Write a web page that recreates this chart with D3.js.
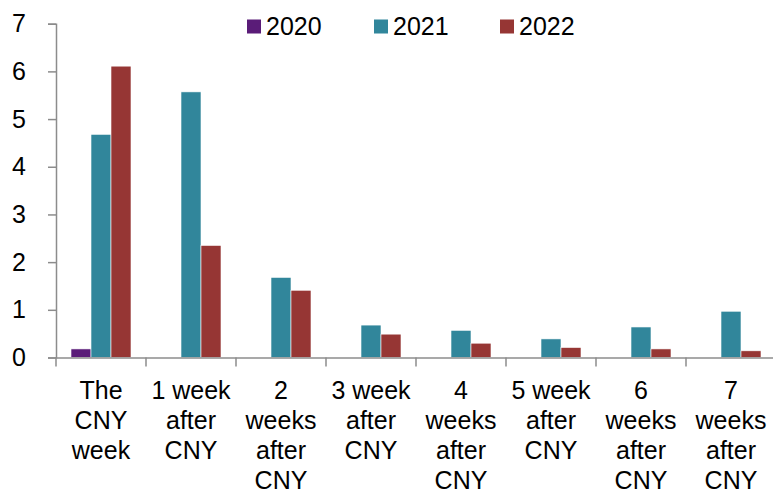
<!DOCTYPE html>
<html>
<head>
<meta charset="utf-8">
<script src="https://cdn.jsdelivr.net/npm/d3@7"></script>
<style>
  html, body { margin: 0; padding: 0; background: #fff; }
  svg { display: block; font-family: "Liberation Sans", Arial, sans-serif; }
</style>
</head>
<body>
<svg id="chart" width="773" height="493"></svg>
<script>
// Categories (weeks relative to Chinese New Year), one label line per entry
const categories = [
  ["The", "CNY", "week"],
  ["1 week", "after", "CNY"],
  ["2", "weeks", "after", "CNY"],
  ["3 week", "after", "CNY"],
  ["4", "weeks", "after", "CNY"],
  ["5 week", "after", "CNY"],
  ["6", "weeks", "after", "CNY"],
  ["7", "weeks", "after", "CNY"]
];
const seriesNames = ["2020", "2021", "2022"];
const values2020 = [0.18, null, null, null, null, null, null, null];
const values2021 = [4.68, 5.57, 1.68, 0.68, 0.57, 0.39, 0.64, 0.97];
const values2022 = [6.11, 2.35, 1.41, 0.49, 0.30, 0.21, 0.18, 0.14];
const yTicks = [0, 1, 2, 3, 4, 5, 6, 7];
const colors = ["#5a1c78", "#31869b", "#963634"];

const svg = d3.select("#chart");
const seriesValues = [values2020, values2021, values2022];
const catKeys = categories.map(c => c.join(" "));

const x = d3.scaleBand().domain(catKeys).range([56, 776]).padding(0);
const xSub = d3.scaleBand().domain(seriesNames).range([15, 75]).padding(0);
const y = d3.scaleLinear().domain([0, 7]).range([357.5, 23.7]);

const axisColor = "#8c8c8c";

// Bars
seriesNames.forEach((name, si) => {
  const data = catKeys.map((k, i) => ({ k, v: seriesValues[si][i] })).filter(d => d.v != null);
  svg.append("g")
    .selectAll("rect")
    .data(data)
    .join("rect")
    .attr("x", d => x(d.k) + xSub(name))
    .attr("y", d => y(d.v))
    .attr("width", xSub.bandwidth())
    .attr("height", d => y(0) - y(d.v))
    .attr("fill", colors[si])
    .attr("stroke", "#ffffff")
    .attr("stroke-width", 0.6);
});

// Y axis
const yAxis = svg.append("g")
  .attr("transform", "translate(56,0)")
  .call(d3.axisLeft(y).tickValues(yTicks).tickSize(8).tickPadding(22).tickFormat(d3.format("d")));
yAxis.select(".domain").attr("stroke", axisColor).attr("stroke-width", 1.5);
yAxis.selectAll(".tick line").attr("stroke", axisColor).attr("stroke-width", 1.5);
yAxis.selectAll(".tick text")
  .attr("fill", "#000")
  .attr("font-size", 25)
  .attr("font-family", "Liberation Sans, Arial, sans-serif");

// X axis
const xAxis = svg.append("g")
  .attr("transform", `translate(0,${y(0)})`)
  .call(d3.axisBottom(x).tickSize(0).tickFormat(""));
xAxis.select(".domain").attr("stroke", axisColor).attr("stroke-width", 1.5);
xAxis.selectAll(".tick").remove();

// Category boundary ticks
const boundaries = catKeys.map(k => x(k)).concat([x.range()[1]]);
svg.append("g")
  .selectAll("line")
  .data(boundaries)
  .join("line")
  .attr("x1", d => d).attr("x2", d => d)
  .attr("y1", y(0)).attr("y2", y(0) + 9)
  .attr("stroke", axisColor)
  .attr("stroke-width", 1.5);

// Category labels (multi-line, centered under each group)
const labels = svg.append("g")
  .attr("font-size", 25)
  .attr("fill", "#000")
  .attr("text-anchor", "middle");
categories.forEach((lines, i) => {
  const cx = x(catKeys[i]) + xSub("2021") + xSub.bandwidth() / 2;
  const t = labels.append("text").attr("x", cx).attr("y", 399);
  lines.forEach((ln, li) => {
    t.append("tspan").attr("x", cx).attr("dy", li === 0 ? 0 : 30).text(ln);
  });
});

// Legend
const legendX = [247, 374, 500];
const legend = svg.append("g");
seriesNames.forEach((name, i) => {
  legend.append("rect")
    .attr("x", legendX[i]).attr("y", 19.5)
    .attr("width", 14).attr("height", 14)
    .attr("fill", colors[i]);
  legend.append("text")
    .attr("x", legendX[i] + 19).attr("y", 35)
    .attr("font-size", 25)
    .attr("fill", "#000")
    .text(name);
});
</script>
</body>
</html>
